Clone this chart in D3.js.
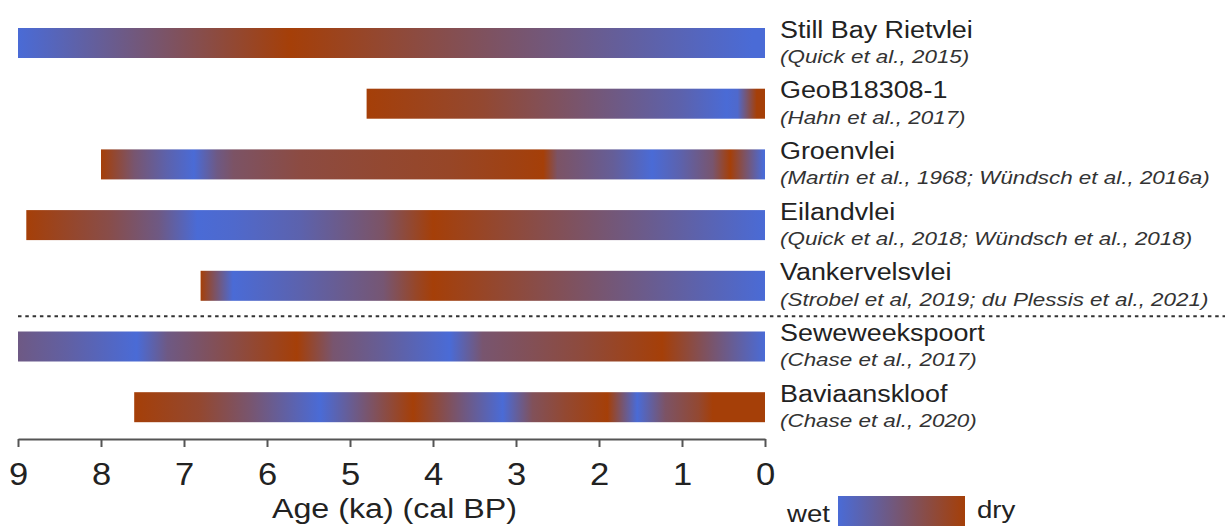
<!DOCTYPE html>
<meta charset="utf-8">
<style>
  body { margin: 0; background: #fff; }
  svg { display: block; font-family: "Liberation Sans", Arial, sans-serif; }
  .name { font-size: 23px; fill: #222; }
  .ref { font-size: 19px; font-style: italic; fill: #333; }
</style>
<script src="https://cdn.jsdelivr.net/npm/d3@7"></script>
<div id="chart"></div>
<script>
// site names and references, top to bottom
const sites = ["Still Bay Rietvlei", "GeoB18308-1", "Groenvlei", "Eilandvlei",
               "Vankervelsvlei", "Seweweekspoort", "Baviaanskloof"];
const refs = ["(Quick et al., 2015)", "(Hahn et al., 2017)",
              "(Martin et al., 1968; Wündsch et al., 2016a)",
              "(Quick et al., 2018; Wündsch et al., 2018)",
              "(Strobel et al, 2019; du Plessis et al., 2021)",
              "(Chase et al., 2017)", "(Chase et al., 2020)"];

// moisture profiles: [age ka, dryness 0 = wet .. 1 = dry], oldest first
const stillBay = [[9,0],[5.72,1],[0.15,0],[0,0]];
const geoB = [[4.8,1],[3.4,0.8],[2.2,0.5],[1.0,0.2],[0.46,0],[0.33,0.05],[0.1,1],[0,1]];
const groenvlei = [[8.0,1],[7.6,0.5],[7.2,0.2],[6.88,0],[6.6,0.4],[6.4,0.55],[5.6,0.72],[4.6,0.8],[3.8,0.85],[3.0,0.95],[2.67,1],[2.5,0.55],[2.23,0.45],[1.83,0.3],[1.36,0],[1.02,0.2],[0.63,0.5],[0.42,1],[0.22,0.5],[0.02,0],[0,0]];
const eilandvlei = [[8.9,1],[7.9,0.68],[7.3,0.4],[6.84,0],[6.4,0.05],[5.6,0.2],[4.6,0.55],[4.2,0.85],[4.0,1],[0,0]];
const vankervelsvlei = [[6.8,1],[6.41,0],[5.6,0.2],[4.6,0.48],[4.2,0.85],[4.0,1],[0,0]];
const seweweekspoort = [[9,0.4],[8.4,0.25],[7.57,0],[7.2,0.4],[6.4,0.7],[5.64,1],[5.2,0.5],[4.6,0.3],[3.8,0],[3.4,0.5],[2.2,0.75],[1.24,1],[0,0]];
const baviaanskloof = [[7.6,1],[6.8,0.8],[6.2,0.5],[5.36,0],[4.8,0.5],[4.24,1],[3.6,0.4],[3.16,0],[2.8,0.6],[2.4,0.8],[1.9,1],[1.54,0],[1.2,0.55],[0.8,0.8],[0.63,1],[0,1]];
const profiles = [stillBay, geoB, groenvlei, eilandvlei, vankervelsvlei, seweweekspoort, baviaanskloof];

const ageTicks = [9, 8, 7, 6, 5, 4, 3, 2, 1, 0];

const wet = "#4a6bd6", dry = "#a53f08";
const mix = d3.interpolateRgb(wet, dry);

const svg = d3.select("#chart").append("svg")
    .attr("width", 1225)
    .attr("height", 526);

const x = d3.scaleLinear().domain([9, 0]).range([18, 765]);
// rows 60.7 px apart, bars 30 px tall
const y = d3.scaleBand().domain(d3.range(sites.length)).range([28, 28 + 60.7 * 6 + 30]).paddingInner(0.5056);

const defs = svg.append("defs");

profiles.forEach(function(p, i) {
  const g = defs.append("linearGradient")
      .attr("id", "grad" + i)
      .attr("gradientUnits", "userSpaceOnUse")
      .attr("x1", x(p[0][0])).attr("x2", x(0))
      .attr("y1", 0).attr("y2", 0);
  const x0 = x(p[0][0]), w = x(0) - x0;
  p.forEach(function(s) {
    g.append("stop")
      .attr("offset", (x(s[0]) - x0) / w)
      .attr("stop-color", mix(s[1]));
  });
});

// bars
svg.append("g").selectAll("rect")
  .data(profiles)
  .join("rect")
    .attr("x", d => x(d[0][0]))
    .attr("y", (d, i) => y(i))
    .attr("width", d => x(0) - x(d[0][0]))
    .attr("height", y.bandwidth())
    .attr("fill", (d, i) => "url(#grad" + i + ")");

// labels
const lab = svg.append("g").selectAll("g")
  .data(sites)
  .join("g");
lab.append("text")
    .attr("class", "name")
    .attr("transform", (d, i) => `translate(780,${y(i) + 9.5}) scale(1.17,1)`)
    .text(d => d);
lab.append("text")
    .attr("class", "ref")
    .attr("transform", (d, i) => `translate(780,${y(i) + 35}) scale(1.18,1)`)
    .text((d, i) => refs[i]);

// dotted separator between lakes and the inland sites
const sepY = (y(4) + y.bandwidth() + y(5)) / 2;
svg.append("line")
    .attr("x1", 18).attr("x2", 1225)
    .attr("y1", sepY).attr("y2", sepY)
    .attr("stroke", "#333")
    .attr("stroke-width", 2)
    .attr("stroke-dasharray", "3.5,3.8");

// x axis
const axis = svg.append("g")
    .attr("transform", "translate(0,439)")
    .call(d3.axisBottom(x).tickValues(ageTicks).tickSize(8).tickSizeOuter(0).tickFormat(d3.format("d")));
axis.select(".domain").attr("stroke", "#555").attr("stroke-width", 2);
axis.selectAll(".tick line").attr("stroke", "#555").attr("stroke-width", 2);
axis.selectAll(".tick text")
    .attr("y", 0).attr("dy", null)
    .attr("transform", "translate(0,46) scale(1.08,1)")
    .attr("fill", "#222")
    .style("font-family", "Liberation Sans, Arial, sans-serif")
    .style("font-size", "32px");

svg.append("text")
    .attr("transform", `translate(${(x(9) + x(0)) / 2 + 3},518) scale(1.15,1)`)
    .attr("text-anchor", "middle")
    .style("font-size", "28px")
    .attr("fill", "#222")
    .text("Age (ka) (cal BP)");

// wet / dry legend
const lg = defs.append("linearGradient").attr("id", "legendGrad");
lg.append("stop").attr("offset", 0).attr("stop-color", wet);
lg.append("stop").attr("offset", 1).attr("stop-color", dry);
svg.append("rect")
    .attr("x", 838).attr("y", 496)
    .attr("width", 127).attr("height", 32)
    .attr("fill", "url(#legendGrad)");
svg.append("text")
    .attr("transform", "translate(787,522) scale(1.15,1)")
    .style("font-size", "24px").attr("fill", "#222")
    .text("wet");
svg.append("text")
    .attr("transform", "translate(977,518) scale(1.15,1)")
    .style("font-size", "24px").attr("fill", "#222")
    .text("dry");
</script>
